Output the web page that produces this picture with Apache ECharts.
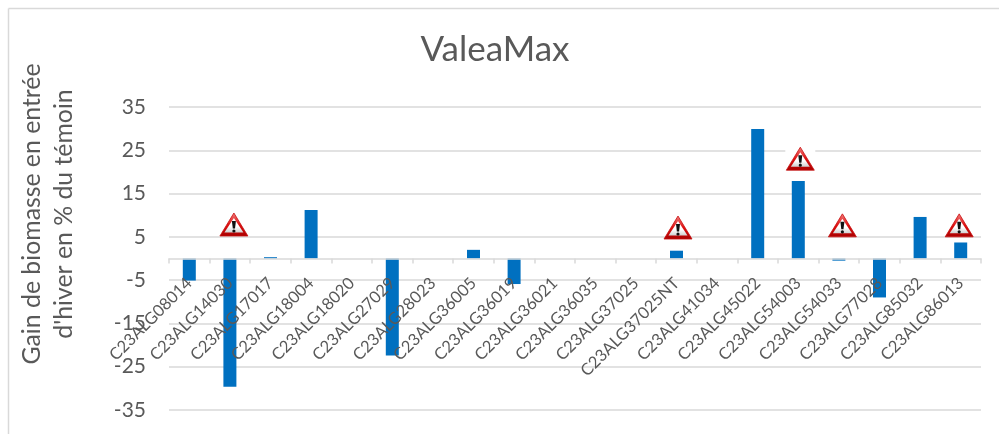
<!DOCTYPE html>
<html>
<head>
<meta charset="utf-8">
<style>
  html, body { margin: 0; padding: 0; background: #fff; }
  #chart { width: 999px; height: 434px; }
</style>
<script src="https://cdn.jsdelivr.net/npm/echarts@6/dist/echarts.min.js"></script>
</head>
<body>
<div id="chart"></div>
<script>
const categories = ['C23ALG08014', 'C23ALG14030', 'C23ALG17017', 'C23ALG18004', 'C23ALG18020',
  'C23ALG27029', 'C23ALG28023', 'C23ALG36005', 'C23ALG36019', 'C23ALG36021', 'C23ALG36035',
  'C23ALG37025', 'C23ALG37025NT', 'C23ALG41034', 'C23ALG45022', 'C23ALG54003', 'C23ALG54033',
  'C23ALG77028', 'C23ALG85032', 'C23ALG86013']
const gains = [-5.1, -29.6, 0.3, 11.2, 0, -22.4, 0, 2, -5.9, 0, 0, 0, 1.8, 0, 29.9, 17.9, -0.5, -9, 9.6, 3.7]
const yTicks = [-35, -25, -15, -5, 5, 15, 25, 35]
// warning signs: category, value at the base of the sign, sideways nudge in px
const warnCategories = ['C23ALG14030', 'C23ALG37025NT', 'C23ALG54003', 'C23ALG54033', 'C23ALG86013']
const warnY = [5.2, 4.5, 20.4, 5, 5]
const warnNudge = [4, 1.5, 2, 3.5, -1.5]

const chart = echarts.init(document.getElementById('chart'))

const textColor = '#595959'
const fontName = 'Lato'
const plotHeight = 303

const renderWarning = (params, api) => {
  const p = api.coord([api.value(0), api.value(1)])
  const x = p[0] + api.value(2)
  const y = p[1]
  const children = [
    // triangle
    {
      type: 'polygon',
      shape: { points: [[x - 14, y], [x, y - 23], [x + 14, y]] },
      style: {
        fill: new echarts.graphic.LinearGradient(0, 0, 0, 1, [
          { offset: 0, color: '#f08080' },
          { offset: 0.5, color: '#e01010' },
          { offset: 1, color: '#a80000' }
        ]),
        stroke: '#c81010',
        lineWidth: 0.8,
        lineJoin: 'round'
      }
    },
    {
      type: 'polygon',
      shape: { points: [[x - 9.5, y - 3.5], [x, y - 18], [x + 9.5, y - 3.5]] },
      style: {
        fill: new echarts.graphic.LinearGradient(0, 0, 0, 1, [
          { offset: 0, color: '#ffffff' },
          { offset: 0.6, color: '#ffffff' },
          { offset: 1, color: '#cfcfcf' }
        ])
      }
    },
    // exclamation mark
    {
      type: 'polygon',
      shape: { points: [[x - 2, y - 15], [x + 2, y - 15], [x + 1.1, y - 7.5], [x - 1.1, y - 7.5]] },
      style: { fill: '#111' }
    },
    { type: 'circle', shape: { cx: x, cy: y - 5, r: 1.6 }, style: { fill: '#111' } }
  ]
  // the sign that sits on a gridline masks it with a white box
  if (params.dataIndex === 2) {
    children.unshift({
      type: 'rect',
      shape: { x: x - 15, y: y - 25, width: 30, height: 26 },
      style: { fill: '#fff' }
    })
  }
  return { type: 'group', children }
}

const option = {
  backgroundColor: '#fff',
  animation: false,
  title: {
    text: 'ValeaMax',
    left: 490,
    textAlign: 'center',
    top: 27,
    textStyle: { color: textColor, fontFamily: fontName, fontSize: 35, fontWeight: 'normal' }
  },
  grid: { left: 169, right: 18, top: 107, height: plotHeight, outerBoundsMode: 'none' },
  xAxis: {
    type: 'category',
    data: categories,
    z: 5,
    // axis sits on y=0, middle of the -35..35 plot
    offset: -plotHeight / 2,
    axisLine: { onZero: false, lineStyle: { color: '#d9d9d9', width: 1.5 } },
    axisTick: { show: true, alignWithLabel: false, length: 5, lineStyle: { color: '#d9d9d9', width: 1.5 } },
    axisLabel: {
      interval: 0,
      rotate: 45,
      margin: 22,
      color: textColor,
      fontFamily: fontName,
      fontSize: 16.5
    }
  },
  yAxis: {
    type: 'value',
    min: -35,
    max: 35,
    interval: 5,
    axisLine: { show: false },
    axisTick: { show: false, customValues: yTicks },
    axisLabel: {
      customValues: yTicks,
      margin: 23,
      color: textColor,
      fontFamily: fontName,
      fontSize: 21
    },
    splitLine: { show: true, lineStyle: { color: '#d9d9d9', width: 1.5 } }
  },
  graphic: [
    // chart frame, cut off by the right and bottom of the picture
    { type: 'line', shape: { x1: 8.5, y1: 8.5, x2: 999, y2: 8.5 }, style: { stroke: '#d9d9d9', lineWidth: 1.5 }, z: 0 },
    { type: 'line', shape: { x1: 8.5, y1: 8.5, x2: 8.5, y2: 434 }, style: { stroke: '#d9d9d9', lineWidth: 1.5 }, z: 0 },
    {
      type: 'text',
      x: 48,
      y: 214,
      rotation: Math.PI / 2,
      style: {
        text: 'Gain de biomasse en entrée\nd\'hiver en % du témoin',
        align: 'center',
        verticalAlign: 'middle',
        fill: textColor,
        font: '24.8px ' + fontName,
        lineHeight: 32
      }
    }
  ],
  series: [
    {
      type: 'bar',
      data: gains,
      barWidth: 13,
      itemStyle: { color: '#0070c0' },
      z: 2
    },
    {
      type: 'custom',
      data: warnCategories.map((c, i) => [categories.indexOf(c), warnY[i], warnNudge[i]]),
      renderItem: renderWarning,
      clip: false,
      z: 6
    }
  ]
}
chart.setOption(option)
</script>
</body>
</html>
